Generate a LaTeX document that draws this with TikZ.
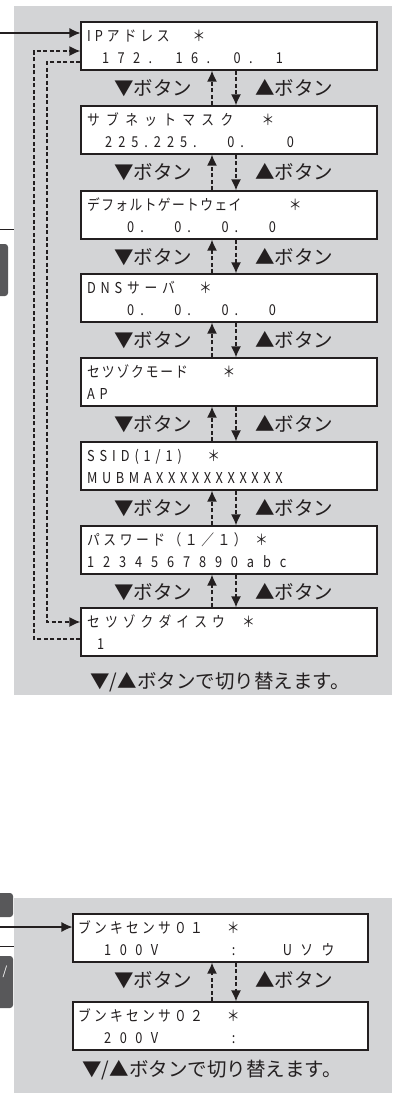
\documentclass[tikz,border=0pt]{standalone}
\usepackage{fontspec}
\setmainfont{Noto Sans CJK JP}
\newfontfamily\lcdfont[FakeStretch=0.85]{Noto Sans CJK JP}
\usetikzlibrary{arrows.meta}
\definecolor{panel}{RGB}{211,212,214}
\definecolor{darkbox}{RGB}{88,88,90}
\definecolor{ink}{RGB}{35,31,32}
\newlength\lcdL
\newlength\lcdS
\makeatletter
\newcommand\lcd[3]{\begingroup\setlength\lcdL{#1pt}\setlength\lcdS{#2pt}\lcd@loop#3\relax\endgroup}
\def\lcd@loop#1{\ifx\relax#1\else\lcd@char{#1}\expandafter\lcd@loop\fi}
\def\lcd@char#1{\ifx~#1\hspace*{\lcdS}\else#1\kern\lcdL\fi}
\makeatother
\begin{document}
\begin{tikzpicture}[x=1pt,y=-1pt,
  box/.style={draw=ink,line width=1.1pt,fill=white,minimum width=296pt,minimum height=48pt,inner sep=0pt},
  sbox/.style={box,minimum width=295pt},
  lcdtx/.style={anchor=base west,inner sep=0pt,text=ink,font=\lcdfont\fontsize{15}{15}\selectfont},
  lbl/.style={inner sep=0pt,text=ink,font=\fontsize{19.5}{20}\selectfont},
  note/.style={inner sep=0pt,text=ink,font=\fontsize{19.5}{20}\selectfont},
  tipa/.style={-{Latex[length=11pt,width=10pt]}},
  dasharr/.style={draw=ink,line width=1.6pt,dash pattern=on 4pt off 2.5pt},
  solidarr/.style={draw=ink,line width=1.2pt}]
\useasboundingbox (0,0) rectangle (394,1093);
% panels
\fill[panel] (14,6) rectangle (392,695);
\fill[panel] (14,898) rectangle (392,1093);
% cut-off page elements on the left
\draw[ink,line width=1pt] (0,229) -- (14,229);
\fill[darkbox,rounded corners=3pt] (-6,244) rectangle (8,296);
\fill[darkbox,rounded corners=3pt] (-6,893) rectangle (13,917);
\draw[ink,line width=1pt] (0,946) -- (14,946);
\fill[darkbox,rounded corners=3pt] (-6,956) rectangle (13,1008);
\node[inner sep=0pt,text=white,font=\fontsize{12}{12}\selectfont] (sl) at (5,972) {/};
% ---------- top panel boxes
\node[box] (b1) at (229,46) {};
\node[box] (b2) at (229,130) {};
\node[box] (b3) at (229,215) {};
\node[box] (b4) at (229,298) {};
\node[box] (b5) at (229,382) {};
\node[box] (b6) at (229,466) {};
\node[box] (b7) at (229,550) {};
\node[box] (b8) at (229,632) {};
% texts
\node[lcdtx] (t1a) at (87,41.5) {\lcd{3.95}{19}{IPアドレス~＊}};
\node[lcdtx] (t1b) at (87,63.5) {\lcd{8.5}{14.8}{~172.~16.~0.~1}};
\node[lcdtx] (t2a) at (87,125.5) {\lcd{6.3}{22}{サブネットマスク~＊}};
\node[lcdtx] (t2b) at (105,147.5) {\lcd{6}{12.3}{225.225.~~0.~~~0}};
\node[lcdtx] (t3a) at (87,210.5) {\lcd{1.4}{46}{デフォルトゲートウェイ~＊}};
\node[lcdtx] (t3b) at (127,232.5) {\lcd{6}{12.3}{0.~~0.~~0.~~0}};
\node[lcdtx] (t4a) at (87,293.5) {\lcd{4.75}{19.5}{DNSサーバ~＊}};
\node[lcdtx] (t4b) at (127,315.5) {\lcd{6}{12.3}{0.~~0.~~0.~~0}};
\node[lcdtx] (t5a) at (87,377.5) {\lcd{1.9}{33}{セツゾクモード~＊}};
\node[lcdtx] (t5b) at (87,399.5) {\lcd{4.7}{10}{AP}};
\node[lcdtx] (t6a) at (87,461.5) {\lcd{4.9}{20.5}{SSID(1/1)~＊}};
\node[lcdtx] (t6b) at (87,483.5) {\lcd{4.6}{10}{MUBMAXXXXXXXXXXX}};
\node[lcdtx] (t7a) at (87,545.5) {\lcd{3.55}{5}{パスワード（１／１）~＊}};
\node[lcdtx] (t7b) at (87,567.5) {\lcd{8.9}{10}{1234567890abc}};
\node[lcdtx] (t8a) at (87,627.5) {\lcd{5.1}{12}{セツゾクダイスウ~＊}};
\node[lcdtx] (t8b) at (97,649.5) {\lcd{0}{10}{1}};
% arrows and labels between boxes
\coordinate (ux) at (212,0);
\coordinate (dx) at (236,0);
\foreach \a/\b/\y in {b1/b2/88,b2/b3/172,b3/b4/257,b4/b5/340,b5/b6/424,b6/b7/508,b7/b8/592}{
  \draw[dasharr,tipa] (\b.north -| ux) -- (\a.south -| ux);
  \draw[dasharr,tipa] (\a.south -| dx) -- (\b.north -| dx);
  \node[lbl] (dl\a) at (153,\y) {▼ボタン};
  \node[lbl] (ul\a) at (294,\y) {▲ボタン};
}
% entry arrow
\coordinate (in1) at (0,33);
\draw[solidarr,tipa] (in1) -- (in1 -| b1.west);
% wrap-around loops
\coordinate (ox) at (34,300);
\coordinate (ix) at (47,300);
\draw[dasharr,tipa] ([yshift=-7pt]b8.west) -| (ox) |- ([yshift=-5pt]b1.west);
\draw[dasharr,tipa] ([yshift=-16pt]b1.west) -| (ix) |- ([yshift=10pt]b8.west);
\node[note] (n1) at (220,682) {▼/▲ボタンで切り替えます。};
% ---------- bottom panel
\node[sbox] (c1) at (220.5,938) {};
\node[sbox] (c2) at (220.5,1026) {};
\node[lcdtx] (u1a) at (78,933.5) {\lcd{3.25}{20.6}{ブンキセンサ０１~＊}};
\node[lcdtx] (u1b) at (78,955.5) {\lcd{8.5}{13}{~~100V~~~~~:~~~Uソウ}};
\node[lcdtx] (u2a) at (78,1021.5) {\lcd{3.25}{20.6}{ブンキセンサ０２~＊}};
\node[lcdtx] (u2b) at (78,1043.5) {\lcd{8.5}{13}{~~200V~~~~~:}};
\draw[dasharr,tipa] (c2.north -| ux) -- (c1.south -| ux);
\draw[dasharr,tipa] (c1.south -| dx) -- (c2.north -| dx);
\node[lbl] (dlc) at (153,980) {▼ボタン};
\node[lbl] (ulc) at (294,980) {▲ボタン};
\coordinate (in2) at (0,927);
\draw[solidarr,tipa] (in2) -- (in2 -| c1.west);
\node[note] (n2) at (212,1070) {▼/▲ボタンで切り替えます。};
\end{tikzpicture}
\end{document}
